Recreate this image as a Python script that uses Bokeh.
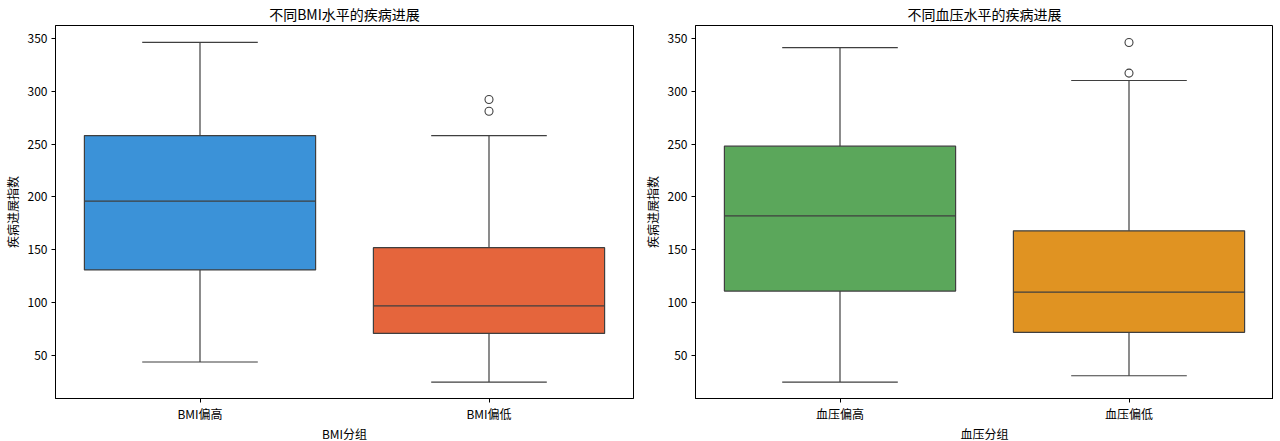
from bokeh.plotting import figure
from bokeh.layouts import row
from bokeh.models import FactorRange, Range1d, ColumnDataSource, FixedTicker
from bokeh.transform import dodge
from bokeh.embed import file_html
from bokeh.resources import INLINE

FONT = "Noto Sans CJK SC"

# Left chart: BMI groups
bmi_groups = ["BMI偏高", "BMI偏低"]
bmi_lower = [44, 25]
bmi_q1 = [131, 71]
bmi_median = [196, 97]
bmi_q3 = [258, 152]
bmi_upper = [346, 258]
bmi_out_group = ["BMI偏低", "BMI偏低"]
bmi_out_value = [292, 281]
bmi_colors = ["#3b92d8", "#e5653c"]

# Right chart: blood pressure groups
bp_groups = ["血压偏高", "血压偏低"]
bp_lower = [25, 31]
bp_q1 = [111, 72]
bp_median = [182, 110]
bp_q3 = [248, 168]
bp_upper = [341, 310]
bp_out_group = ["血压偏低", "血压偏低"]
bp_out_value = [346, 317]
bp_colors = ["#5ba75b", "#e09322"]

y_ticks = [50, 100, 150, 200, 250, 300, 350]

EDGE = "#3f3f3f"


def make_box(title, xlabel, groups, lower, q1, med, q3, upper, og, ov, colors,
             bl, br):
    p = figure(x_range=FactorRange(*groups), y_range=Range1d(9.5, 362),
               frame_width=578, frame_height=373, output_backend="svg",
               toolbar_location=None, title=title,
               min_border_left=bl, min_border_right=br,
               min_border_top=0, min_border_bottom=0)
    src = ColumnDataSource(dict(g=groups, lower=lower, q1=q1, med=med, q3=q3,
                                upper=upper, color=colors))
    # whiskers
    p.segment(x0="g", y0="q3", x1="g", y1="upper", source=src,
              line_color=EDGE, line_width=1.2)
    p.segment(x0="g", y0="q1", x1="g", y1="lower", source=src,
              line_color=EDGE, line_width=1.2)
    # caps
    p.segment(x0=dodge("g", -0.2, range=p.x_range), y0="upper",
              x1=dodge("g", 0.2, range=p.x_range), y1="upper", source=src,
              line_color=EDGE, line_width=1.2)
    p.segment(x0=dodge("g", -0.2, range=p.x_range), y0="lower",
              x1=dodge("g", 0.2, range=p.x_range), y1="lower", source=src,
              line_color=EDGE, line_width=1.2)
    # boxes
    p.vbar(x="g", bottom="q1", top="q3", width=0.8, source=src,
           fill_color="color", line_color=EDGE, line_width=1.2)
    # medians
    p.segment(x0=dodge("g", -0.4, range=p.x_range), y0="med",
              x1=dodge("g", 0.4, range=p.x_range), y1="med", source=src,
              line_color=EDGE, line_width=1.2)
    # outliers
    p.scatter(x=og, y=ov, size=8, marker="circle", fill_color=None,
              line_color=EDGE, line_width=1.1)

    p.title.align = "center"
    p.title.text_font = FONT
    p.title.text_font_size = "14px"
    p.title.text_font_style = "normal"
    p.title.text_color = "black"
    p.title.standoff = 3
    p.title.offset = 0
    p.xgrid.visible = False
    p.ygrid.visible = False
    p.outline_line_color = "black"
    p.outline_line_width = 1
    p.yaxis.ticker = FixedTicker(ticks=y_ticks)
    for ax in (p.xaxis, p.yaxis):
        ax.axis_line_color = "black"
        ax.major_tick_line_color = "black"
        ax.major_tick_out = 4
        ax.major_tick_in = 0
        ax.minor_tick_line_color = None
        ax.major_label_text_font = FONT
        ax.major_label_text_font_size = "12px"
        ax.major_label_text_color = "black"
        ax.axis_label_text_font = FONT
        ax.axis_label_text_font_size = "12px"
        ax.axis_label_text_font_style = "normal"
        ax.axis_label_text_color = "black"
    p.xaxis.axis_label = xlabel
    p.yaxis.axis_label = "疾病进展指数"
    p.xaxis.axis_label_standoff = 0
    p.yaxis.axis_label_standoff = 4
    p.xaxis.major_label_standoff = 2
    p.yaxis.major_label_standoff = 4
    return p


p1 = make_box("不同BMI水平的疾病进展", "BMI分组", bmi_groups, bmi_lower, bmi_q1,
              bmi_median, bmi_q3, bmi_upper, bmi_out_group, bmi_out_value,
              bmi_colors, 47, 7)
p2 = make_box("不同血压水平的疾病进展", "血压分组", bp_groups, bp_lower, bp_q1,
              bp_median, bp_q3, bp_upper, bp_out_group, bp_out_value,
              bp_colors, 52, 0)

layout = row(p1, p2)
open("out.html", "w").write(file_html(layout, INLINE))
